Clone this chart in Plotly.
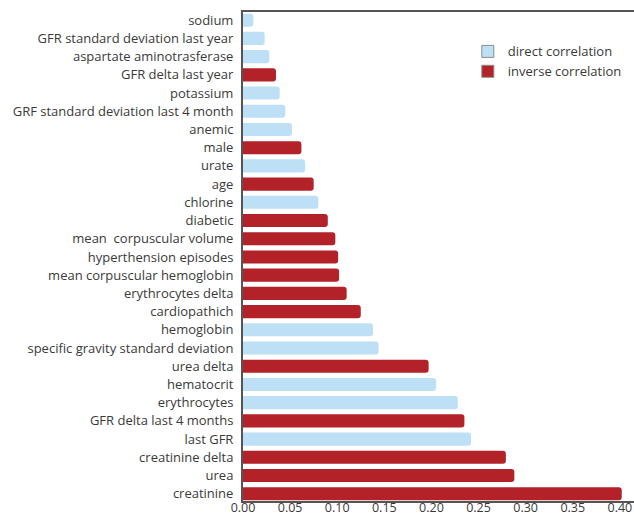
import plotly.graph_objects as go

# categories listed from bottom to top
categories = [
    "creatinine", "urea", "creatinine delta", "last GFR", "GFR delta last 4 months",
    "erythrocytes", "hematocrit", "urea delta", "specific gravity standard deviation",
    "hemoglobin", "cardiopathich", "erythrocytes delta", "mean corpuscular hemoglobin",
    "hyperthension episodes", "mean  corpuscular volume", "diabetic", "chlorine", "age",
    "urate", "male", "anemic", "GRF standard deviation last 4 month", "potassium",
    "GFR delta last year", "aspartate aminotrasferase", "GFR standard deviation last year",
    "sodium",
]
values = [
    0.402, 0.288, 0.279, 0.242, 0.235,
    0.228, 0.205, 0.197, 0.144,
    0.138, 0.125, 0.110, 0.102,
    0.101, 0.098, 0.090, 0.080, 0.075,
    0.066, 0.062, 0.052, 0.045, 0.039,
    0.035, 0.028, 0.023,
    0.011,
]
correlation = [
    "inverse", "inverse", "inverse", "direct", "inverse",
    "direct", "direct", "inverse", "direct",
    "direct", "inverse", "inverse", "inverse",
    "inverse", "inverse", "inverse", "direct", "inverse",
    "direct", "inverse", "direct", "direct", "direct",
    "inverse", "direct", "direct",
    "direct",
]
tick_values = [0.0, 0.05, 0.10, 0.15, 0.20, 0.25, 0.30, 0.35, 0.40]

BLUE = "#BEE0F7"
RED = "#B22228"

fig = go.Figure()
for kind, name, color in [("direct", "direct correlation", BLUE),
                          ("inverse", "inverse correlation", RED)]:
    ys = [c for c, k in zip(categories, correlation) if k == kind]
    xs = [v for v, k in zip(values, correlation) if k == kind]
    fig.add_trace(go.Bar(
        x=xs, y=ys, orientation="h", name=name, showlegend=False,
        marker=dict(color=color, cornerradius=3, line=dict(width=0)),
        width=0.72,
    ))
    # legend-only entry: square swatch with a grey outline
    fig.add_trace(go.Bar(
        x=[None], y=[None], orientation="h", name=name, showlegend=True,
        marker=dict(color=color, line=dict(color="#8a8a8a", width=1)),
        hoverinfo="skip",
    ))

fig.update_layout(
    width=634, height=516,
    margin=dict(l=243, r=0, t=12, b=15),
    paper_bgcolor="white", plot_bgcolor="white",
    barmode="relative",
    font=dict(family="Open Sans, sans-serif", size=13, color="#3a3a3a"),
    showlegend=True,
    legend=dict(x=0.575, y=0.95, xanchor="left", yanchor="top",
                bgcolor="rgba(0,0,0,0)", font=dict(size=13, color="#3a3a3a"),
                tracegroupgap=0, itemwidth=30),
)
fig.update_xaxes(
    range=[0, 0.415], tickvals=tick_values, tickformat=".2f",
    tickfont=dict(size=12.5),
    showgrid=False, zeroline=False, automargin=False,
    showline=True, linecolor="#555555", linewidth=2, mirror=True,
    ticks="", ticklen=0, ticklabelstandoff=-6,
)
fig.update_yaxes(
    categoryorder="array", categoryarray=categories,
    range=[-0.4, 26.45], automargin=False,
    showgrid=False, zeroline=False,
    showline=True, linecolor="#555555", linewidth=2,
    ticks="", ticklabelstandoff=5,
)

fig.write_html(
    "out.html",
    config={"displayModeBar": False},
    post_script="document.body.style.margin='0';document.body.style.overflow='hidden';",
)
